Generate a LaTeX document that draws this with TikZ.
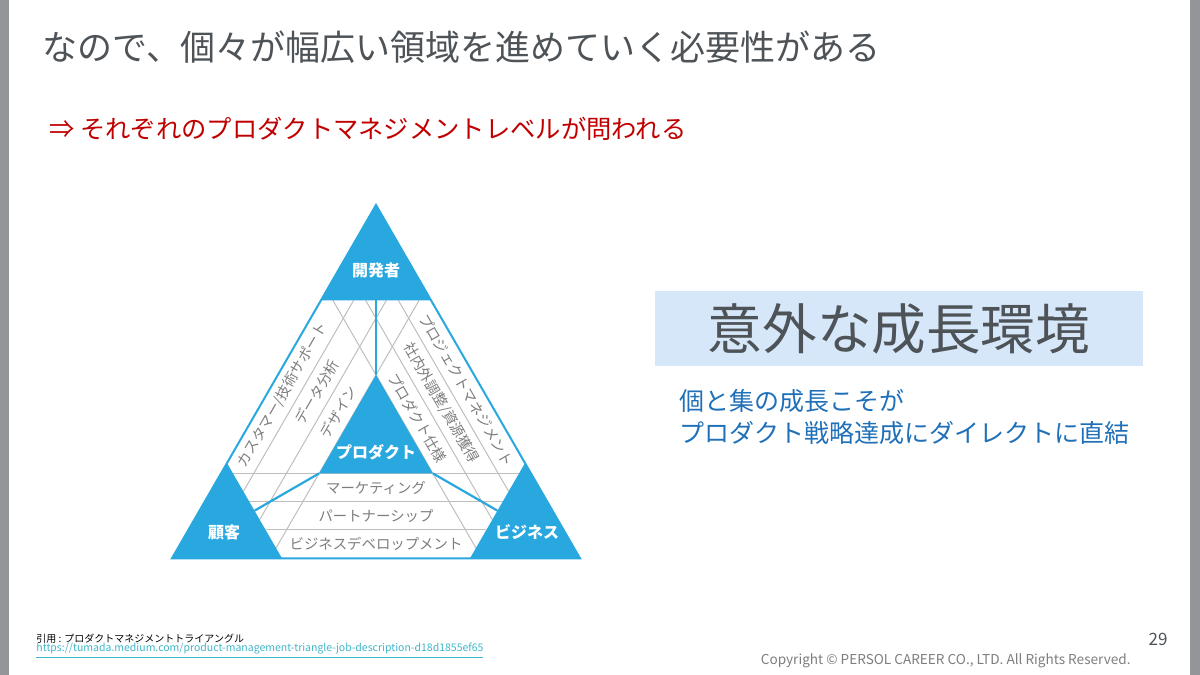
\documentclass[tikz,border=0pt]{standalone}
\usepackage{fontspec}
\setmainfont{Noto Sans CJK JP}
\usetikzlibrary{calc,positioning}
\definecolor{triazul}{RGB}{41,168,224}
\definecolor{lineagris}{RGB}{190,190,190}
\definecolor{textogris}{RGB}{125,125,125}
\definecolor{titulo}{RGB}{78,83,88}
\definecolor{rojo}{RGB}{192,0,0}
\definecolor{cajaazul}{RGB}{214,231,250}
\definecolor{azultexto}{RGB}{31,112,184}
\definecolor{urlcol}{RGB}{64,182,200}
\definecolor{marco}{RGB}{147,149,152}
\newcommand{\bandfrac}{0.2973}
\newcommand{\fs}[1]{\fontsize{#1}{#1}\selectfont}
\tikzset{
  esquina/.style={fill=triazul},
  etiq/.style={text=white,font=\fs{8}\bfseries,inner sep=0pt},
  banda/.style={lineagris,line width=0.5pt},
  rotulo/.style={text=textogris,font=\fs{7.2},inner sep=0pt},
  union/.style={triazul,line width=1.1pt},
}

\begin{document}
\begin{tikzpicture}[x=0.5pt,y=-0.5pt]
  \useasboundingbox (0,0) rectangle (1200,675);
  \fill[marco] (0,0) rectangle (9,675);
  \fill[marco] (1190,0) rectangle (1200,675);

  % textos
  \node[anchor=west,text=titulo,font=\fs{17.5},inner sep=0pt] (tit) at (42,47)
    {なので、個々が幅広い領域を進めていく必要性がある};
  \node[anchor=west,text=rojo,font=\fs{12.65},inner sep=0pt] (sub) at (49,129)
    {⇒ それぞれのプロダクトマネジメントレベルが問われる};
  \node[fill=cajaazul,minimum width=244pt,minimum height=37.5pt,inner sep=0pt,
        text=titulo,font=\fs{27.3}] (caja) at (899,328.5) {意外な成長環境};
  \node[anchor=north west,text=azultexto,font=\fs{12.5},align=left,inner sep=0pt]
    (msg) at (679,389) {個と集の成長こそが\\[3.5pt]プロダクト戦略達成にダイレクトに直結};

  % triangulo
  \coordinate (A) at (376,205);
  \coordinate (B) at (172,558.3);
  \coordinate (C) at (580,558.3);
  \coordinate (A1) at ($(A)!0.2696!(B)$);
  \coordinate (A2) at ($(A)!0.2696!(C)$);
  \coordinate (B1) at ($(B)!0.2696!(A)$);
  \coordinate (B2) at ($(B)!0.2696!(C)$);
  \coordinate (C1) at ($(C)!0.2696!(A)$);
  \coordinate (C2) at ($(C)!0.2696!(B)$);
  \coordinate (P) at (376,374.9);
  \coordinate (P1) at (319.1,473.4);
  \coordinate (P2) at (432.9,473.4);

  \foreach \k in {1,2,3} {
    \draw[banda] ($(A1)!{\k*\bandfrac}!(A2)$) -- ($(B1)!{\k*\bandfrac}!(B2)$);
    \draw[banda] ($(A2)!{\k*\bandfrac}!(A1)$) -- ($(C1)!{\k*\bandfrac}!(C2)$);
    \draw[banda] ($(B2)!{\k*\bandfrac}!(B1)$) -- ($(C2)!{\k*\bandfrac}!(C1)$);
  }

  \fill[esquina] (A) -- (A1) -- (A2) -- cycle;
  \fill[esquina] (B) -- (B1) -- (B2) -- cycle;
  \fill[esquina] (C) -- (C1) -- (C2) -- cycle;
  \fill[esquina] (P) -- (P1) -- (P2) -- cycle;
  \draw[triazul,line width=1pt,line join=miter] (A) -- (B) -- (C) -- cycle;
  \draw[union] ($(A1)!0.5!(A2)$) -- (P);
  \draw[union] (P1) -- ($(B1)!0.5!(B2)$);
  \draw[union] (P2) -- ($(C1)!0.5!(C2)$);

  \node[etiq] (dev) at (376,270) {開発者};
  \node[etiq] (cli) at (224,532) {顧客};
  \node[etiq] (biz) at (527,532) {ビジネス};
  \node[etiq] (prod) at (376,452) {プロダクト};

  \node[rotulo] (mk) at (376,488) {マーケティング};
  \node[rotulo] (pa) at (376,516) {パートナーシップ};
  \node[rotulo] (bd) at (376,544) {ビジネスデベロップメント};
  \node[rotulo,rotate=60] (cs) at (282.6,395) {カスタマー/技術サポート};
  \node[rotulo,rotate=60] (da) at (317,392) {データ分析};
  \node[rotulo,rotate=60] (de) at (338.3,412) {デザイン};
  \node[rotulo,rotate=-60] (pm) at (466.5,390) {プロジェクトマネジメント};
  \node[rotulo,rotate=-60] (ci) at (441.3,403) {社内外調整/資源獲得};
  \node[rotulo,rotate=-60] (ps) at (417.3,418) {プロダクト仕様};

  % pie
  \node[anchor=west,font=\fs{5},inner sep=0pt] (ref) at (36,639)
    {引用 : プロダクトマネジメントトライアングル};
  \node[anchor=west,font=\fs{5.25},text=urlcol,inner sep=0pt] (url) at (36,651)
    {\underline{https://tumada.medium.com/product-management-triangle-job-description-d18d1855ef65}};
  \node[anchor=east,font=\fs{8.5},text=titulo,inner sep=0pt] (pag) at (1168,639) {29};
  \node[anchor=east,font=\fs{6.8},text=textogris,inner sep=0pt] (copy) at (1131,661)
    {Copyright © PERSOL CAREER CO., LTD. All Rights Reserved.};
\end{tikzpicture}
\end{document}
